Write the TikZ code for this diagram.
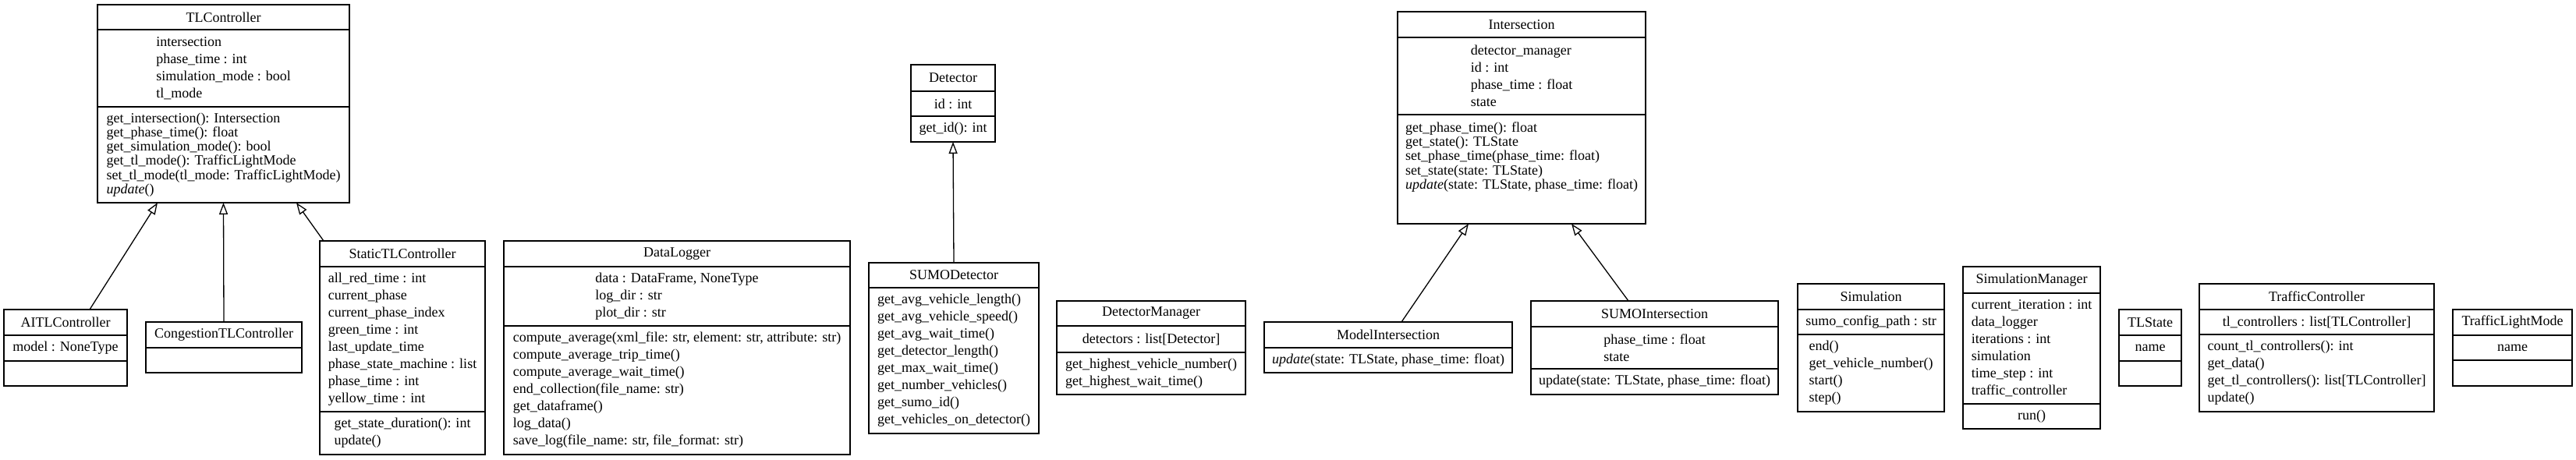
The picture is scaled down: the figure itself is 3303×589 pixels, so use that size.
\documentclass[tikz,border=0pt]{standalone}
\usepackage{fontspec}
\setmainfont{Liberation Serif}
\usepackage{tikz}
\usetikzlibrary{
  arrows.meta,
  positioning
}
\newcommand{\us}{\_}

\begin{document}
\begin{tikzpicture}[
  x=1pt, y=-1pt,
  box/.style={draw, line width=1.4pt, inner sep=0pt, outer sep=0pt,
              align=left, font=\fontsize{18}{22}\selectfont},
  hdr/.style={box, anchor=north west},
  cmp/.style={box, anchor=north},
  tight/.style={font=\fontsize{18}{18.3}\selectfont},
  inherit/.style={line width=1.3pt,
                  -{Triangle[open, length=15pt, width=11pt, line width=1.3pt]}},
]
  \useasboundingbox (0,0) rectangle (3303,589);

  % Controller hierarchy
  \node[hdr, minimum width=323pt, minimum height=32pt] (tlc) at (125,6) {TLController};
  \node[cmp, minimum width=323pt, minimum height=99pt, below=0pt of tlc] (tlc-a)
    {intersection\\phase\us time : int\\simulation\us mode : bool\\tl\us mode};
  \node[cmp, tight, minimum width=323pt, minimum height=123pt, below=0pt of tlc-a] (tlc-m)
    {get\us intersection(): Intersection\\get\us phase\us time(): float\\
     get\us simulation\us mode(): bool\\get\us tl\us mode(): TrafficLightMode\\
     set\us tl\us mode(tl\us mode: TrafficLightMode)\\\textit{update}()};

  \node[hdr, minimum width=158pt, minimum height=33pt] (aitl) at (5,397) {AITLController};
  \node[cmp, minimum width=158pt, minimum height=33pt, below=0pt of aitl] (aitl-a) {model : NoneType};
  \node[cmp, minimum width=158pt, minimum height=32pt, below=0pt of aitl-a] (aitl-m) {};

  \node[hdr, minimum width=200pt, minimum height=33pt] (ctlc) at (187,413) {CongestionTLController};
  \node[cmp, minimum width=200pt, minimum height=32pt, below=0pt of ctlc] (ctlc-m) {};

  \node[hdr, minimum width=212pt, minimum height=33pt] (stlc) at (410,309) {StaticTLController};
  \node[cmp, minimum width=212pt, minimum height=186pt, below=0pt of stlc] (stlc-a)
    {all\us red\us time : int\\current\us phase\\current\us phase\us index\\green\us time : int\\
     last\us update\us time\\phase\us state\us machine : list\\phase\us time : int\\yellow\us time : int};
  \node[cmp, minimum width=212pt, minimum height=55pt, below=0pt of stlc-a] (stlc-m)
    {get\us state\us duration(): int\\update()};

  % Logging
  \node[hdr, minimum width=444pt, minimum height=33pt] (dlog) at (646,309) {DataLogger};
  \node[cmp, minimum width=444pt, minimum height=76pt, below=0pt of dlog] (dlog-a)
    {data : DataFrame, NoneType\\log\us dir : str\\plot\us dir : str};
  \node[cmp, minimum width=444pt, minimum height=165pt, below=0pt of dlog-a] (dlog-m)
    {compute\us average(xml\us file: str, element: str, attribute: str)\\
     compute\us average\us trip\us time()\\compute\us average\us wait\us time()\\
     end\us collection(file\us name: str)\\get\us dataframe()\\log\us data()\\
     save\us log(file\us name: str, file\us format: str)};

  % Detectors
  \node[hdr, minimum width=108pt, minimum height=34pt] (det) at (1168,83) {Detector};
  \node[cmp, minimum width=108pt, minimum height=32pt, below=0pt of det] (det-a) {id : int};
  \node[cmp, minimum width=108pt, minimum height=33pt, below=0pt of det-a] (det-m) {get\us id(): int};

  \node[hdr, minimum width=218pt, minimum height=32pt] (sdet) at (1114,337) {SUMODetector};
  \node[cmp, minimum width=218pt, minimum height=187pt, below=0pt of sdet] (sdet-m)
    {get\us avg\us vehicle\us length()\\get\us avg\us vehicle\us speed()\\get\us avg\us wait\us time()\\
     get\us detector\us length()\\get\us max\us wait\us time()\\get\us number\us vehicles()\\
     get\us sumo\us id()\\get\us vehicles\us on\us detector()};

  \node[hdr, minimum width=242pt, minimum height=32pt] (dman) at (1355,386) {DetectorManager};
  \node[cmp, minimum width=242pt, minimum height=34pt, below=0pt of dman] (dman-a) {detectors : list[Detector]};
  \node[cmp, minimum width=242pt, minimum height=54pt, below=0pt of dman-a] (dman-m)
    {get\us highest\us vehicle\us number()\\get\us highest\us wait\us time()};

  % Intersections
  \node[hdr, minimum width=318pt, minimum height=33pt] (isec) at (1792,15) {Intersection};
  \node[cmp, minimum width=318pt, minimum height=99pt, below=0pt of isec] (isec-a)
    {detector\us manager\\id : int\\phase\us time : float\\state};
  \node[cmp, tight, minimum width=318pt, minimum height=140pt, below=0pt of isec-a] (isec-m)
    {get\us phase\us time(): float\\get\us state(): TLState\\set\us phase\us time(phase\us time: float)\\
     set\us state(state: TLState)\\\textit{update}(state: TLState, phase\us time: float)\\
     \rule{0pt}{30pt}};

  \node[hdr, minimum width=318pt, minimum height=33pt] (misec) at (1621,413) {ModelIntersection};
  \node[cmp, minimum width=318pt, minimum height=32pt, below=0pt of misec] (misec-m)
    {\textit{update}(state: TLState, phase\us time: float)};

  \node[hdr, minimum width=317pt, minimum height=33pt] (sisec) at (1963,386) {SUMOIntersection};
  \node[cmp, minimum width=317pt, minimum height=54pt, below=0pt of sisec] (sisec-a)
    {phase\us time : float\\state};
  \node[cmp, minimum width=317pt, minimum height=33pt, below=0pt of sisec-a] (sisec-m)
    {update(state: TLState, phase\us time: float)};

  % Simulation and the rest
  \node[hdr, minimum width=188pt, minimum height=33pt] (sim) at (2305,364) {Simulation};
  \node[cmp, minimum width=188pt, minimum height=32pt, below=0pt of sim] (sim-a) {sumo\us config\us path : str};
  \node[cmp, minimum width=188pt, minimum height=99pt, below=0pt of sim-a] (sim-m)
    {end()\\get\us vehicle\us number()\\start()\\step()};

  \node[hdr, minimum width=176pt, minimum height=34pt] (sman) at (2517,342) {SimulationManager};
  \node[cmp, minimum width=176pt, minimum height=142pt, below=0pt of sman] (sman-a)
    {current\us iteration : int\\data\us logger\\iterations : int\\simulation\\time\us step : int\\
     traffic\us controller};
  \node[cmp, minimum width=176pt, minimum height=32pt, below=0pt of sman-a] (sman-m) {run()};

  \node[hdr, minimum width=80pt, minimum height=33pt] (tls) at (2717,397) {TLState};
  \node[cmp, minimum width=80pt, minimum height=33pt, below=0pt of tls] (tls-a) {name};
  \node[cmp, minimum width=80pt, minimum height=32pt, below=0pt of tls-a] (tls-m) {};

  \node[hdr, minimum width=301pt, minimum height=33pt] (tctl) at (2820,364) {TrafficController};
  \node[cmp, minimum width=301pt, minimum height=32pt, below=0pt of tctl] (tctl-a)
    {tl\us controllers : list[TLController]};
  \node[cmp, minimum width=301pt, minimum height=99pt, below=0pt of tctl-a] (tctl-m)
    {count\us tl\us controllers(): int\\get\us data()\\get\us tl\us controllers(): list[TLController]\\update()};

  \node[hdr, minimum width=153pt, minimum height=33pt] (tlm) at (3145,397) {TrafficLightMode};
  \node[cmp, minimum width=153pt, minimum height=32pt, below=0pt of tlm] (tlm-a) {name};
  \node[cmp, minimum width=153pt, minimum height=33pt, below=0pt of tlm-a] (tlm-m) {};

  % Inheritance
  \draw[inherit] ([xshift=110pt]aitl.north west) -- ([xshift=77pt]tlc-m.south west);
  \draw[inherit] (ctlc.north) -- (tlc-m.south);
  \draw[inherit] ([xshift=5pt]stlc.north west) -- ([xshift=255pt]tlc-m.south west);
  \draw[inherit] (sdet.north) -- (det-m.south);
  \draw[inherit] ([xshift=176pt]misec.north west) -- ([xshift=91pt]isec-m.south west);
  \draw[inherit] ([xshift=125pt]sisec.north west) -- ([xshift=223pt]isec-m.south west);

\end{tikzpicture}
\end{document}
